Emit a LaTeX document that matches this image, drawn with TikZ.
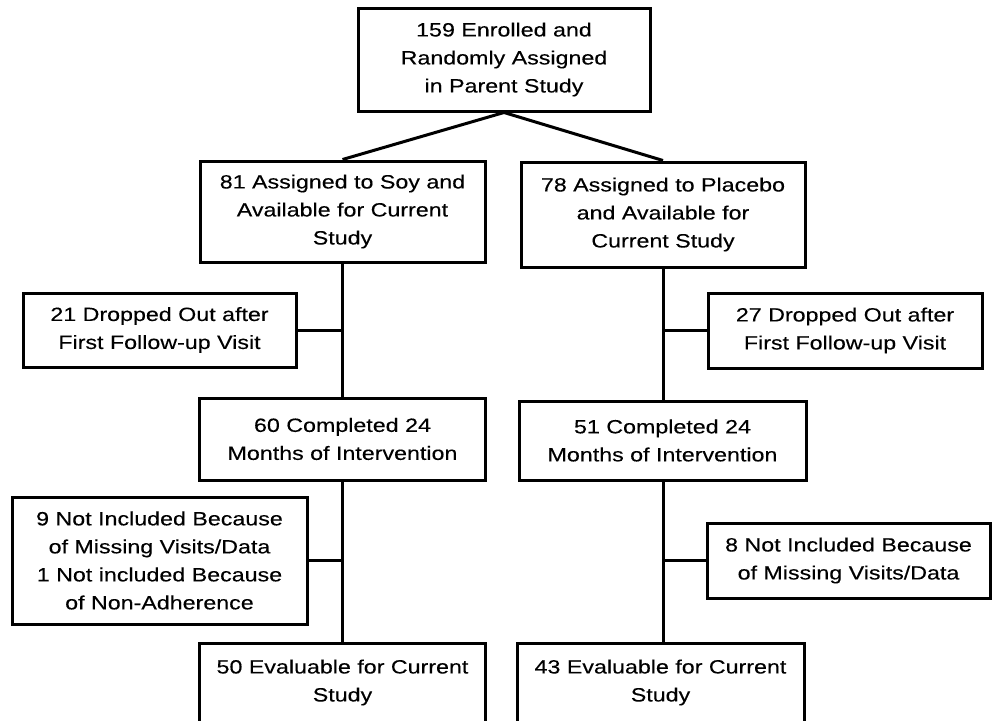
\documentclass[tikz,border=0pt]{standalone}
\usepackage{fontspec}
\setmainfont{Liberation Sans}[FakeStretch=1.21,FakeBold=0.25]
\begin{document}
\begin{tikzpicture}[x=1pt,y=-1pt,
  box/.style={draw=black,line width=3pt,rectangle,inner sep=0pt,align=center,
    font=\fontsize{19.2}{28}\selectfont},
  conn/.style={draw=black,line width=3pt}]
\useasboundingbox[fill=white] (0,0) rectangle (992,720);
\node[box,minimum width=292,minimum height=103] (top) at (504,59.5) {159 Enrolled and\\Randomly Assigned\\in Parent Study};
\node[box,minimum width=285,minimum height=101] (soy) at (342.5,211.5) {81 Assigned to Soy and\\Available for Current\\Study};
\node[box,minimum width=284,minimum height=105] (plc) at (663,214.5) {78 Assigned to Placebo\\and Available for\\Current Study};
\node[box,minimum width=273,minimum height=74] (dropL) at (159.5,330) {21 Dropped Out after\\First Follow-up Visit};
\node[box,minimum width=274,minimum height=75] (dropR) at (845,330.5) {27 Dropped Out after\\First Follow-up Visit};
\node[box,minimum width=286,minimum height=82] (compL) at (342.5,439) {60 Completed 24\\Months of Intervention};
\node[box,minimum width=287,minimum height=79] (compR) at (662.5,440.5) {51 Completed 24\\Months of Intervention};
\node[box,minimum width=295,minimum height=127] (exclL) at (159.5,560.5) {9 Not Included Because\\of Missing Visits/Data\\1 Not included Because\\of Non-Adherence};
\node[box,minimum width=283,minimum height=75] (exclR) at (848.5,560.5) {8 Not Included Because\\of Missing Visits/Data};
\node[box,minimum width=286,minimum height=79] (evalL) at (342.5,682.5) {50 Evaluable for Current\\Study};
\node[box,minimum width=287,minimum height=79] (evalR) at (660.5,682.5) {43 Evaluable for Current\\Study};
% connectors
\draw[conn] (top.south) -- (soy.north);
\draw[conn] (top.south) -- (plc.north);
\draw[conn] (soy.south) -- (soy.south |- compL.north);
\draw[conn] (plc.south) -- (plc.south |- compR.north);
\coordinate (jL1) at (soy.south |- dropL.east);
\coordinate (jR1) at (plc.south |- dropR.west);
\draw[conn] (dropL.east) -- (jL1);
\draw[conn] (dropR.west) -- (jR1);
\draw[conn] (soy.south |- compL.south) -- (soy.south |- evalL.north);
\draw[conn] (plc.south |- compR.south) -- (plc.south |- evalR.north);
\coordinate (jL2) at (soy.south |- exclL.east);
\coordinate (jR2) at (plc.south |- exclR.west);
\draw[conn] (exclL.east) -- (jL2);
\draw[conn] (exclR.west) -- (jR2);
\end{tikzpicture}
\end{document}
